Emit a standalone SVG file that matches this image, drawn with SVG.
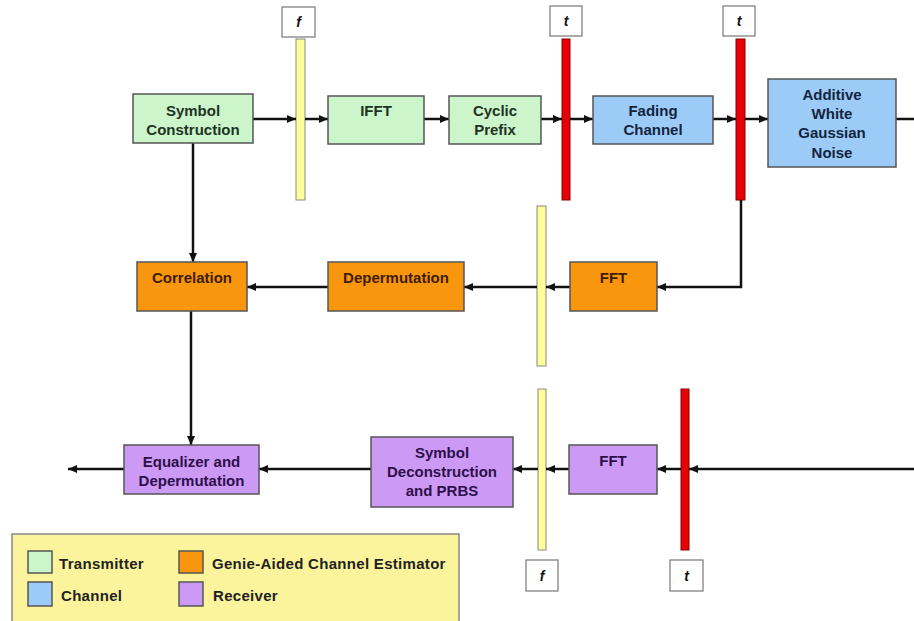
<svg xmlns="http://www.w3.org/2000/svg" width="914" height="621" viewBox="0 0 914 621">
<defs>
<marker id="ah" markerUnits="userSpaceOnUse" markerWidth="9" markerHeight="8" refX="9" refY="4" orient="auto">
<path d="M0,0 L9,4 L0,8 z" fill="#111"/>
</marker>
<style>
.box{stroke:#555;stroke-width:1.5}
.tx{fill:#ccf5cc}.ch{fill:#9ccbf7}.ge{fill:#f8960d}.rx{fill:#cc99f5}
.lbl{font-family:"Liberation Sans",Arial,sans-serif;font-weight:bold;font-size:15px;text-anchor:middle}
.ltx{fill:#1f331f}.lch{fill:#14243e}.lge{fill:#3f1c00}.lrx{fill:#2e0f4a}
.ybar{fill:#ffff99;stroke:#888;stroke-width:1}
.rbar{fill:#e60008;stroke:#8a0000;stroke-width:1}
.dom{fill:#fff;stroke:#777;stroke-width:1.2}
.dlbl{font-family:"Liberation Sans",Arial,sans-serif;font-weight:bold;font-style:italic;font-size:14px;text-anchor:middle;fill:#111}
.cn{fill:none;stroke:#111;stroke-width:2.5}
.cna{fill:none;stroke:#111;stroke-width:2.5;marker-end:url(#ah)}
.leg{font-family:"Liberation Sans",Arial,sans-serif;font-weight:bold;font-size:15px;fill:#222;letter-spacing:0.3px}
</style>
</defs>
<rect width="914" height="621" fill="#fff"/>

<!-- domain bars -->
<g id="bar-f1"><rect class="dom" x="282" y="7" width="33" height="30"/><text class="dlbl" x="298.5" y="27">f</text><rect class="ybar" x="296" y="39" width="9" height="161"/></g>
<g id="bar-t1"><rect class="dom" x="550" y="6" width="32" height="30"/><text class="dlbl" x="566" y="26">t</text><rect class="rbar" x="562" y="39" width="8" height="161"/></g>
<g id="bar-t2"><rect class="dom" x="723" y="6" width="32" height="30"/><text class="dlbl" x="739" y="26">t</text><rect class="rbar" x="736" y="39" width="9" height="161"/></g>
<g id="bar-f2"><rect class="ybar" x="537" y="206" width="9" height="160"/></g>
<g id="bar-f3"><rect class="ybar" x="538" y="389" width="8" height="161"/><rect class="dom" x="526" y="560" width="32" height="31"/><text class="dlbl" x="542" y="581">f</text></g>
<g id="bar-t3"><rect class="rbar" x="681" y="389" width="8" height="161"/><rect class="dom" x="670" y="560" width="33" height="31"/><text class="dlbl" x="686.5" y="581">t</text></g>

<!-- connectors -->
<g id="connectors">
<path class="cna" d="M253,119 H296"/>
<path class="cna" d="M305,119 H328"/>
<path class="cna" d="M424,119 H449"/>
<path class="cna" d="M541,119 H562"/>
<path class="cna" d="M570,119 H593"/>
<path class="cna" d="M713,119 H736"/>
<path class="cna" d="M745,119 H768"/>
<path class="cn" d="M896,119 H914"/>
<path class="cna" d="M193,143 V262"/>
<path class="cna" d="M741,200 V287 H657"/>
<path class="cna" d="M570,287 H546"/>
<path class="cna" d="M537,287 H464"/>
<path class="cna" d="M328,287 H247"/>
<path class="cna" d="M191,311 V445"/>
<path class="cna" d="M914,469 H689"/>
<path class="cna" d="M681,469 H657"/>
<path class="cna" d="M569,469 H546"/>
<path class="cna" d="M538,469 H513"/>
<path class="cna" d="M371,469 H259"/>
<path class="cna" d="M124,469 H68"/>
</g>

<!-- nodes -->
<g id="symbol-construction"><rect class="box tx" x="133" y="94" width="120" height="49"/><text class="lbl ltx" x="193" y="116">Symbol</text><text class="lbl ltx" x="193" y="135">Construction</text></g>
<g id="ifft"><rect class="box tx" x="328" y="96" width="96" height="48"/><text class="lbl ltx" x="376" y="116">IFFT</text></g>
<g id="cyclic-prefix"><rect class="box tx" x="449" y="96" width="92" height="48"/><text class="lbl ltx" x="495" y="116">Cyclic</text><text class="lbl ltx" x="495" y="135">Prefix</text></g>
<g id="fading-channel"><rect class="box ch" x="593" y="96" width="120" height="48"/><text class="lbl lch" x="653" y="116">Fading</text><text class="lbl lch" x="653" y="135">Channel</text></g>
<g id="awgn"><rect class="box ch" x="768" y="79" width="128" height="88"/><text class="lbl lch" x="832" y="100">Additive</text><text class="lbl lch" x="832" y="119">White</text><text class="lbl lch" x="832" y="138">Gaussian</text><text class="lbl lch" x="832" y="158">Noise</text></g>
<g id="correlation"><rect class="box ge" x="137" y="262" width="110" height="49"/><text class="lbl lge" x="192" y="283">Correlation</text></g>
<g id="depermutation"><rect class="box ge" x="328" y="262" width="136" height="49"/><text class="lbl lge" x="396" y="283">Depermutation</text></g>
<g id="fft-genie"><rect class="box ge" x="570" y="262" width="87" height="49"/><text class="lbl lge" x="613.5" y="283">FFT</text></g>
<g id="equalizer"><rect class="box rx" x="124" y="445" width="135" height="49"/><text class="lbl lrx" x="191.5" y="467">Equalizer and</text><text class="lbl lrx" x="191.5" y="486">Depermutation</text></g>
<g id="symbol-deconstruction"><rect class="box rx" x="371" y="437" width="142" height="70"/><text class="lbl lrx" x="442" y="458">Symbol</text><text class="lbl lrx" x="442" y="477">Deconstruction</text><text class="lbl lrx" x="442" y="496">and PRBS</text></g>
<g id="fft-rx"><rect class="box rx" x="569" y="445" width="88" height="49"/><text class="lbl lrx" x="613" y="466">FFT</text></g>

<!-- legend -->
<g id="legend">
<rect x="12" y="534" width="447" height="100" fill="#fcf49c" stroke="#888" stroke-width="1.5"/>
<rect class="box tx" x="28" y="551" width="24" height="22"/>
<rect class="box ch" x="28" y="582" width="24" height="24"/>
<rect class="box ge" x="179" y="551" width="24" height="22"/>
<rect class="box rx" x="179" y="582" width="24" height="24"/>
<text class="leg" x="59" y="569">Transmitter</text>
<text class="leg" x="61" y="601">Channel</text>
<text class="leg" x="212" y="569">Genie-Aided Channel Estimator</text>
<text class="leg" x="213" y="601">Receiver</text>
</g>
</svg>
